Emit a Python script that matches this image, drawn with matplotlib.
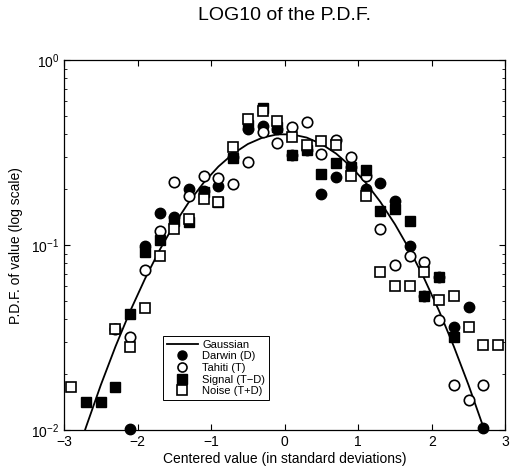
import numpy as np
import matplotlib
matplotlib.use('Agg')
from matplotlib import pyplot as plt
from matplotlib.legend_handler import HandlerLine2D

plt.rcParams['font.family'] = ['Liberation Sans', 'DejaVu Sans']
plt.rcParams['mathtext.default'] = 'regular'

nan = np.nan

# bin centres (in standard deviations)
bins = [-2.9, -2.7, -2.5, -2.3, -2.1, -1.9, -1.7, -1.5, -1.3, -1.1,
        -0.9, -0.7, -0.5, -0.3, -0.1, 0.1, 0.3, 0.5, 0.7, 0.9,
        1.1, 1.3, 1.5, 1.7, 1.9, 2.1, 2.3, 2.5, 2.7, 2.9]

gaussian = [0.0060, 0.0104, 0.0175, 0.0283, 0.0440, 0.0656, 0.0941, 0.1295, 0.1714, 0.2179,
            0.2661, 0.3123, 0.3521, 0.3814, 0.3970, 0.3970, 0.3814, 0.3521, 0.3123, 0.2661,
            0.2179, 0.1714, 0.1295, 0.0941, 0.0656, 0.0440, 0.0283, 0.0175, 0.0104, 0.0060]

darwin = [nan, nan, nan, nan, 0.0101, 0.0988, 0.149, 0.142, 0.200, 0.197,
          0.208, 0.300, 0.424, 0.441, 0.427, 0.307, 0.326, 0.190, 0.234, 0.265,
          0.200, 0.218, 0.173, 0.0988, 0.0532, 0.0674, 0.0362, 0.0464, 0.0103, nan]

tahiti = [nan, nan, nan, 0.0354, 0.0317, 0.0733, 0.119, 0.219, 0.184, 0.236,
          0.232, 0.213, 0.282, 0.410, 0.355, 0.436, 0.464, 0.310, 0.369, 0.301,
          0.236, 0.122, 0.0780, 0.0877, 0.0812, 0.0393, 0.0175, 0.0145, 0.0175, nan]

signal = [nan, 0.0141, 0.0141, 0.0170, 0.0424, 0.0917, 0.106, 0.135, 0.134, 0.193,
          0.171, 0.294, 0.445, 0.548, 0.436, 0.307, 0.326, 0.241, 0.279, 0.265,
          0.256, 0.152, 0.156, 0.135, 0.0532, 0.0674, 0.0319, nan, nan, nan]

noise = [0.0170, nan, nan, 0.0350, 0.0282, 0.0455, 0.0872, 0.122, 0.139, 0.177,
         0.171, 0.340, 0.478, 0.532, 0.468, 0.386, 0.347, 0.365, 0.347, 0.236,
         0.184, 0.0717, 0.0603, 0.0603, 0.0717, 0.0504, 0.0532, 0.0362, 0.0288, 0.0288]


class RightMarker(HandlerLine2D):
  # put the legend marker at the right end of the handle, like the original
  def get_xdata(self, legend, xdescent, ydescent, width, height, fontsize):
    xdata = np.array([-xdescent, -xdescent + width])
    return xdata, np.array([-xdescent + width * 0.88])


fig = plt.figure(figsize=(5.12, 4.70), dpi=100)
ax = fig.add_axes([0.125, 0.085, 0.862, 0.787])

ax.plot(bins, gaussian, color='black', lw=1.3, label='Gaussian', zorder=2)
ms = 7.5
h1, = ax.plot(bins, darwin, 'o', ms=ms, mfc='black', mec='black', label='Darwin (D)', clip_on=False, zorder=3)
h2, = ax.plot(bins, tahiti, 'o', ms=ms, mfc='white', mec='black', mew=1.2, label='Tahiti (T)', clip_on=False, zorder=4)
h3, = ax.plot(bins, signal, 's', ms=ms - 1, mfc='black', mec='black', label='Signal (T\u2212D)', clip_on=False, zorder=5)
h4, = ax.plot(bins, noise, 's', ms=ms - 1, mfc='white', mec='black', mew=1.2, label='Noise (T+D)', clip_on=False, zorder=6)

ax.set_yscale('log')
ax.set_xlim(-3, 3)
ax.set_ylim(1e-2, 1e0)
ax.set_xticks([-3, -2, -1, 0, 1, 2, 3])
ax.set_xticklabels(['\u22123', '\u22122', '\u22121', '0', '1', '2', '3'])
ax.tick_params(which='both', direction='in', top=True, right=True, labelsize=10)
ax.tick_params(which='major', length=4)
ax.tick_params(which='minor', length=2.5)
for s in ax.spines.values():
  s.set_linewidth(0.9)

ax.set_xlabel('Centered value (in standard deviations)', fontsize=10, labelpad=2)
ax.set_ylabel('P.D.F. of value (log scale)', fontsize=10, labelpad=6)
fig.text(0.555, 0.968, 'LOG10 of the P.D.F.', ha='center', va='center', fontsize=14)

hmap = {h: RightMarker(numpoints=1) for h in (h1, h2, h3, h4)}
leg = ax.legend(loc='lower left', bbox_to_anchor=(0.224, 0.081), fontsize=8,
                handlelength=2.8, handletextpad=0.4, labelspacing=0.15,
                borderpad=0.35, fancybox=False, framealpha=1, edgecolor='black',
                handler_map=hmap, borderaxespad=0)
leg.get_frame().set_linewidth(0.7)
for lh in leg.get_lines()[1:]:
  lh.set_markersize(6.5)

plt.savefig('out.png', dpi=100)
